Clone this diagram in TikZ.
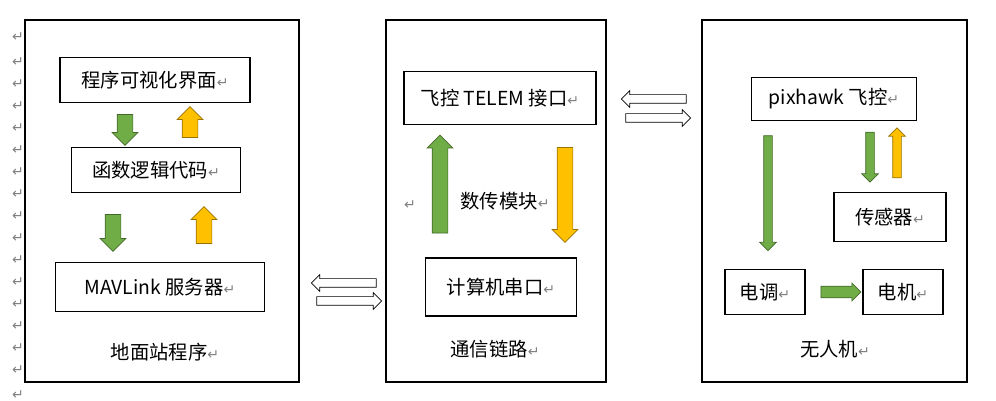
\documentclass[tikz,border=0pt]{standalone}
\usepackage{fontspec}
\setmainfont{Noto Sans CJK SC}
\newfontfamily\retfont{DejaVu Sans}
\usetikzlibrary{shapes.arrows}
\definecolor{ugreen}{HTML}{70AD47}
\definecolor{uorange}{HTML}{FFC000}
\newcommand{\ret}{{\retfont\color{gray}\fontsize{8}{8}\selectfont ↵}}
\tikzset{
  panel/.style={draw, thick},
  box/.style={draw, thick, minimum height=0.9cm, font=\fontsize{11}{13}\selectfont},
  caption/.style={font=\fontsize{11}{13}\selectfont},
  blk/.style={single arrow, draw=#1!60!black, fill=#1, inner xsep=0pt, inner ysep=0.15cm,
    single arrow head extend=0.1cm, minimum width=0.5cm},
  thinblk/.style={blk=#1, inner ysep=0.08cm, minimum width=0.32cm, single arrow head extend=0.08cm},
  hollow/.style={single arrow, draw, fill=white, inner xsep=0pt, inner ysep=0.08cm,
    minimum width=0.32cm, single arrow head extend=0.08cm, minimum height=1.3cm}
}
\begin{document}
\begin{tikzpicture}[x=0.02cm, y=-0.02cm]
  \useasboundingbox (0,0) rectangle (996,401);
  % margin marks
  \foreach \yy in {37,62,84,106,128,150,172,194,216,238,260,282,304,326,348,370,395}
    \node at (18,\yy) {\ret};
  % ground station
  \draw[panel] (25,20) rectangle (299,382);
  \node[box, minimum width=3.8cm] (ui) at (155,80) {程序可视化界面\ret};
  \node[box, minimum width=3.38cm] (logic) at (156,170) {函数逻辑代码\ret};
  \node[box, minimum width=4.18cm, minimum height=0.98cm] (mav) at (160,287) {MAVLink 服务器\ret};
  \node[caption] (gcs) at (165,352) {地面站程序\ret};
  \node[blk=ugreen, rotate=-90, minimum height=0.62cm] (a1) at (125,126) {};
  \node[blk=uorange, rotate=90, minimum height=0.62cm] (a2) at (190,126) {};
  \node[blk=ugreen, rotate=-90, minimum height=0.74cm] (a3) at (113,229) {};
  \node[blk=uorange, rotate=90, minimum height=0.74cm] (a4) at (204,229) {};
  % link
  \draw[panel] (386,20) rectangle (606,382);
  \node[box, minimum width=3.84cm, minimum height=1.06cm] (telem) at (500,98) {飞控 TELEM 接口\ret};
  \node[blk=ugreen, rotate=90, minimum height=1.96cm] (a5) at (440,188) {};
  \node[blk=uorange, rotate=-90, minimum height=1.9cm] (a6) at (565,191) {};
  \node[caption] (radio) at (505,201) {数传模块\ret};
  \node (r1) at (410,205) {\ret};
  \node[box, minimum width=3.02cm, minimum height=1.16cm] (com) at (501,287) {计算机串口\ret};
  \node[caption] (lnk) at (495,349) {通信链路\ret};
  % uav
  \draw[panel] (702,20) rectangle (967,382);
  \node[box, minimum width=3.3cm, minimum height=0.86cm] (px) at (834,99) {pixhawk 飞控\ret};
  \node[thinblk=ugreen, rotate=-90, minimum height=2.3cm] (a7) at (768,191) {};
  \node[thinblk=ugreen, rotate=-90, minimum height=1.0cm] (a8) at (870,155) {};
  \node[thinblk=uorange, rotate=90, minimum height=1.0cm] (a9) at (897,155) {};
  \node[box, minimum width=2.24cm, minimum height=0.98cm] (sens) at (890,217) {传感器\ret};
  \node[box, minimum width=1.6cm] (esc) at (765,292) {电调\ret};
  \node[box, minimum width=1.6cm] (mot) at (903,292) {电机\ret};
  \node[blk=ugreen, inner ysep=0.1cm, minimum height=0.8cm, minimum width=0.36cm, single arrow head extend=0.06cm] (a10) at (838,292) {};
  \node[caption] (uav) at (835,349) {无人机\ret};
  % links between panels
  \node[hollow, shape border rotate=180] (l1) at (656,99) {};
  \node[hollow] (l2) at (656,118) {};
  \node[hollow, shape border rotate=180] (l3) at (346,283) {};
  \node[hollow] (l4) at (347,301) {};
\end{tikzpicture}
\end{document}
